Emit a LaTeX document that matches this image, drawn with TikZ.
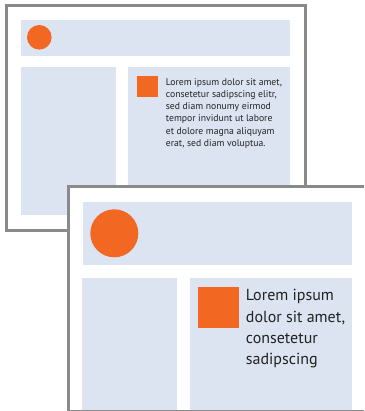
\documentclass[tikz,border=0pt]{standalone}
\usepackage{fontspec}
\setmainfont{PT Sans}
\definecolor{panelblue}{HTML}{DCE4F2}
\definecolor{accent}{HTML}{F26722}
\definecolor{framegray}{HTML}{8A8A8A}
\definecolor{inktext}{HTML}{222222}

\begin{document}
\begin{tikzpicture}[x=1pt, y=-1pt,
  pageframe/.style={draw=framegray, line width=3pt, fill=white},
  panel/.style={fill=panelblue},
  marker/.style={fill=accent},
  copytext/.style={anchor=north west, inner sep=0pt, align=left, text=inktext}]
\useasboundingbox (0,0) rectangle (364,411);
\clip (0,0) rectangle (364,411);

% back page
\draw[pageframe] (6,6) rectangle (305,230.5);
\fill[panel] (21,20) rectangle (290,56);
\fill[marker] (39.3,37.3) circle (12.3pt);
\fill[panel] (21,67) rectangle (116,215);
\fill[panel] (128,67) rectangle (290,215);
\fill[marker] (137,76) rectangle (158,97);
\node[copytext, font=\fontsize{9.7}{12.3}\selectfont] (backtext) at (165.7,78) {Lorem ipsum dolor sit amet,\\
consetetur sadipscing elitr,\\
sed diam nonumy eirmod\\
tempor invidunt ut labore\\
et dolore magna aliquyam\\
erat, sed diam voluptua.};

% front page
\draw[pageframe] (68.3,186.5) rectangle (380,411);
\fill[panel] (83,202) rectangle (352,264.7);
\fill[marker] (114.3,233.3) circle (24pt);
\fill[panel] (82,278) rectangle (177,409.5);
\fill[panel] (190,278) rectangle (352,409.5);
\fill[marker] (198,287) rectangle (239,327.7);
\node[copytext, font=\fontsize{16}{21.3}\selectfont] (fronttext) at (245.7,289.3) {Lorem ipsum\\
dolor sit amet,\\
consetetur\\
sadipscing};
\end{tikzpicture}
\end{document}
